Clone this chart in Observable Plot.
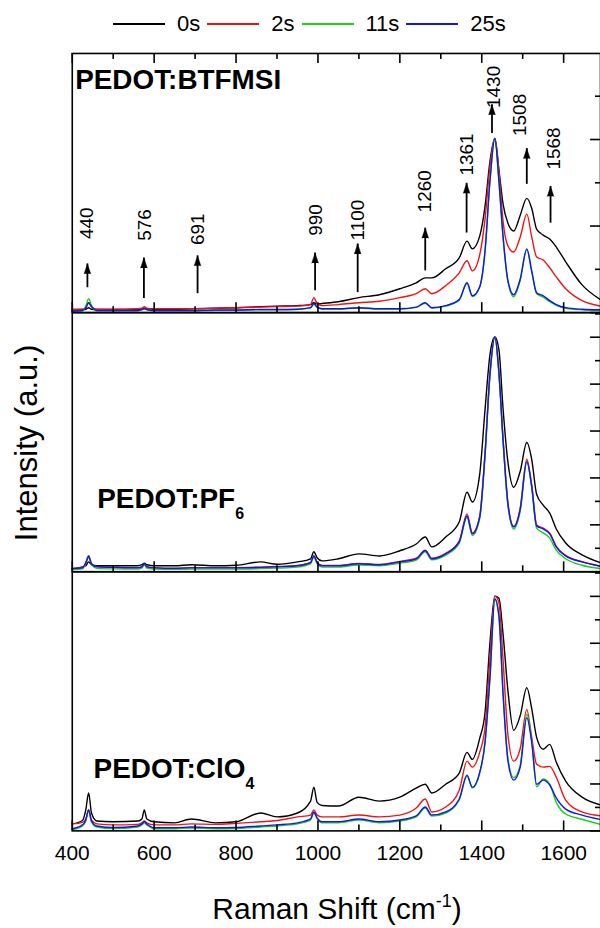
<!DOCTYPE html>
<html>
<head>
<meta charset="utf-8">
<script src="https://cdn.jsdelivr.net/npm/d3@7"></script>
<script src="https://cdn.jsdelivr.net/npm/@observablehq/plot@0.6"></script>
<style>
  html, body { margin: 0; padding: 0; background: #fff; overflow: hidden; }
  #wrap { position: relative; width: 600px; height: 928px; overflow: hidden; font-family: "Liberation Sans", Arial, sans-serif; }
  #legend { position: absolute; left: 0; top: 0; width: 600px; height: 44px; display: flex; align-items: center; padding-left: 113px; box-sizing: border-box; padding-top: 4px; }
  #legend .sw { width: 52px; height: 2px; }
  #legend .lb { font-size: 22px; margin-left: 12px; margin-right: 7px; color: #000; }
  #chart { position: absolute; left: 0; top: 44px; }
  #titles { position: absolute; left: 0; top: 0; pointer-events: none; }
</style>
</head>
<body>
<div id="wrap">
  <div id="legend"></div>
  <div id="chart"></div>
  <svg id="titles" width="600" height="928"></svg>
</div>
<script>
// ---------- data ----------
const seriesNames = ["0s", "2s", "11s", "25s"];
const seriesColors = ["#000000", "#f01414", "#14d214", "#1414f0"];
const panelNames = ["PEDOT:BTFMSI", "PEDOT:PF_6", "PEDOT:ClO_4"];

// Raman shift grid (cm-1)
const shift = [400,425,433,440,447,460,500,560,570,576,582,600,650,691,750,800,860,900,950,982,990,998,1010,1050,1100,1150,1200,1240,1262,1278,1312,1345,1364,1377,1395,1408,1420,1432,1442,1452,1464,1478,1494,1510,1522,1534,1550,1566,1582,1605,1645,1690];

// intensities (a.u., % of panel height)
const btfmsi_0s  = [1.2,1.2,1.3,1.9,1.3,1.2, 1.2,1.3,1.5,1.7,1.5,1.3, 1.3,1.5,1.7,1.9,2.3,2.5, 2.7,3.1,3.8,3.3,3.5,4.2, 5.8,6.9,9.2,11.5,13.4,13.4, 16.9,21.1,27.6,24.6,29.5,41, 58.3,67.2,55,42,34.5,31.5, 37.6,44.1,40.3,32.2,29.9,28.4, 25.3,19.6,10.7,5.0];
const btfmsi_2s  = [1.2,1.3,1.9,3.8,2.3,1.3, 1.3,1.5,1.7,2.3,1.7,1.5, 1.5,1.5,1.7,1.9,2.1,2.3, 2.5,3.1,5.8,3.5,2.7,3.1, 3.8,4.4,5.8,7.3,9.2,7.3, 10.4,15.3,20,16.1,22.3,36.1, 56.4,67.2,54.5,35.3,25.7,23.4, 29.2,38,29.2,21.5,20.3,17.3, 13.8,9.2,4.6,2.5];
const btfmsi_11s = [0.5,0.7,2.5,5.4,2.7,0.7, 0.7,0.7,1.1,1.4,1.1,0.7, 0.7,0.7,0.9,0.9,1.1,1.1, 1.2,1.8,3.3,2,1.4,1.4, 1.8,1.4,1.4,2,3.6,1.8, 2.5,4.8,11.2,6.2,9.8,23.5, 50.5,67.2,50.5,29,11.8,6.1, 12.5,24.3,15.8,7.3,6,4.2, 2.8,1.7,1.1,0.9];
const btfmsi_25s = [0.6,0.8,1.9,3.8,2.3,0.8, 0.8,0.8,1.2,1.5,1.2,0.8, 0.8,0.8,1,1,1.2,1.2, 1.3,1.9,3.5,2.1,1.5,1.5, 1.9,1.5,1.5,2.1,3.8,1.9, 2.7,5,11.5,6.5,10,23.8, 50.7,67.2,50.7,29.5,12.3,6.9, 13,24.6,16.1,7.7,6.5,4.6, 3.1,1.9,1.3,1.1];

const pf6_0s  = [1.2,1.9,2.3,3.8,2.7,2.3, 2.3,2.3,2.7,3.3,2.7,2.3, 2.3,2.7,2.3,2.5,3.8,2.9, 3.8,5,7.7,5.4,4.2,5, 6.9,6.1,8.1,10.7,13.4,9.6, 13.4,19.2,30.7,26.9,37.6,62.5, 83.7,90.6,85.6,63,42.2,32.6, 38.8,49.9,43.4,29.9,25.7,22.6, 16.5,11.1,6.5,3.5];
const pf6_2s  = [1.3,1.6,3.3,5.6,3,2, 1.8,1.6,2,3,2,1.6, 1.4,1.6,1.6,1.6,1.8,2, 2.4,3.6,6.1,3.6,2.4,2.4, 3.2,2.8,4,5.2,8.3,5.2, 7.1,11.8,22.3,15,21.5,45.8, 76.5,90.6,77,51.5,26.5,17.6, 24.6,43.4,33.5,18,16.8,14.9, 9.8,6.3,3.9,2.2];
const pf6_11s = [0.8,1.1,3.3,6.1,2.9,1.3, 1.1,1,1.4,2.7,1.4,1, 0.9,1,1,1,1.2,1.4, 1.8,3,5.8,3,1.8,1.8, 2.6,2.3,3.3,4.5,7.7,4.6, 6.4,11,21,14,20.5,44.8, 75.5,90.6,76,50.5,25.5,16.5, 23.5,42.2,32.5,16.8,15,13, 8.3,5,2.5,1.2];
const pf6_25s = [1.2,1.5,3.5,6.1,3.1,1.9, 1.7,1.5,1.9,3.1,1.9,1.5, 1.3,1.5,1.5,1.5,1.7,1.9, 2.3,3.5,6.1,3.5,2.3,2.3, 3.1,2.7,3.8,5,8.1,5, 6.9,11.5,21.5,14.6,21.1,45.3, 76,90.6,76.7,51,26.1,17.3, 24.2,42.6,33,17.7,16.5,14.6, 9.6,6.1,3.8,2.1];

const clo4_0s  = [2.7,4.0,8.1,14.6,6.9,3.8, 3.5,3.8,4.6,8.1,4.6,3.5, 3.1,4.6,3.1,3.5,6.9,5.4, 6.9,11.5,16.9,11,9.8,9.6, 13,11.5,13,16.5,18,14.6, 18,22.3,30.3,27.6,35.7,45.7, 72.5,90.6,89.8,76,54,38.8, 44.5,55.3,47.2,36.1,31.5,33.4, 26.5,19.2,13,10];
const clo4_2s  = [2.7,3.3,4.6,8.1,4.2,2.7, 2.3,2.5,3.1,3.8,3.1,2.3, 2.3,2.7,2.5,2.9,3.5,4, 5.4,6.1,8.1,6.1,5.4,5.4, 6.1,5.4,6.1,8.8,12.3,7.3, 9.2,15.7,26.9,24.6,30.3,39.9, 66.8,90.6,88,66,37,26.9, 31.8,46.8,36.1,25.7,24.6,24.9, 20.7,11.9,7.3,5.8];
const clo4_11s = [0.4,1.9,3.8,8.1,3.4,1.5, 0.9,1.5,2.3,3.1,2.3,0.8, 0.8,1.1,0.8,0.9,1.5,1.9, 2.7,4.2,7,4.6,3.1,3.1, 4.2,3.1,3.8,5.4,8.8,5.7, 6.9,11.9,21.1,16.5,22.2,33.8, 58.7,89.5,82.5,53.5,28,20.5, 25.5,45,35,17,20,18, 11,6.5,4.5,2.5];
const clo4_25s = [0.8,2.3,4.2,8.1,3.8,1.9, 1.3,1.9,2.7,3.5,2.7,1.2, 1.2,1.5,1.2,1.3,1.9,2.3, 3.1,4.6,7.3,5,3.5,3.5, 4.6,3.5,4.2,5.8,9.2,6.1, 7.3,12.3,21.5,16.9,22.6,34.2, 59.1,89.5,83,53,27,19.6, 24.6,43.7,34.2,18,19.6,17.7, 12.7,8.4,6.1,4.4];

// peak annotations (top panel)
const peakLabels = ["440","576","691","990","1100","1260","1361","1430","1508","1568"];
const arrowX     = [437, 575, 706, 993, 1097, 1262, 1363, 1425, 1510, 1568];
const arrowTail  = [9.6, 5.4, 7.3, 8.4, 7.7, 16.1, 30.7, 69.1, 49.5, 34.5];
const arrowTip   = [18.8, 21.1, 21.9, 23, 26.5, 32.6, 49.9, 80.2, 63.3, 48.7];
const labelX     = [437, 578, 706, 995, 1097, 1262, 1364, 1430, 1493, 1576];
const labelY     = [34.5, 33.8, 32.2, 35.7, 35.7, 46.8, 61, 87.1, 76.3, 63.3];

// panel label positions
const panelLabelX = [407, 461, 452];
const panelLabelY = [89.8, 28, 23.9];

// axis ticks
const xMajor = [400, 600, 800, 1000, 1200, 1400, 1600];
const xMinor = [500, 700, 900, 1100, 1300, 1500];
const rightMajor = [[0, 33.4, 66.8], [0, 18.1, 36.2, 54.3, 72.4, 90.5], [0, 18.1, 36.2, 54.3, 72.4, 90.5]];
const rightMinor = [[16.7, 50.1, 83.5], [9.05, 27.15, 45.25, 63.35, 81.45, 99.5], [9.05, 27.15, 45.25, 63.35, 81.45, 99.5]];

// ---------- layout ----------
const W = 602, H = 884, mT = 8, mB = 94, mL = 72, mR = 0;
const xDomain = [400, 1690], yDomain = [0, 100];
const pxPerX = (W - mL - mR) / (xDomain[1] - xDomain[0]);
const pxPerY = (H - mT - mB) / 3 / (yDomain[1] - yDomain[0]);
const panels = ["p1", "p2", "p3"];

// ---------- build tables ----------
const spectra = [
  [btfmsi_0s, btfmsi_2s, btfmsi_11s, btfmsi_25s],
  [pf6_0s, pf6_2s, pf6_11s, pf6_25s],
  [clo4_0s, clo4_2s, clo4_11s, clo4_25s]
];
const rows = [];
panels.forEach((p, pi) => {
  seriesNames.forEach((s, si) => {
    const arr = spectra[pi][si];
    shift.forEach((x, i) => rows.push({panel: p, series: s, key: p + s, x, y: arr[i]}));
  });
});

const annos = peakLabels.map((t, i) => ({panel: "p1", label: t, ax: arrowX[i], tail: arrowTail[i], tip: arrowTip[i], lx: labelX[i], ly: labelY[i]}));
const plabels = panelNames.map((t, i) => ({panel: panels[i], text: t, x: panelLabelX[i], y: panelLabelY[i]}));

const bottomTicks = [];
panels.forEach(p => {
  xMajor.forEach(x => bottomTicks.push({panel: p, x, len: 10}));
  xMinor.forEach(x => bottomTicks.push({panel: p, x, len: 6}));
});
const topTicks = [];
xMajor.forEach(x => topTicks.push({panel: "p1", x, len: 10}));
xMinor.forEach(x => topTicks.push({panel: "p1", x, len: 6}));
const rightTicks = [];
panels.forEach((p, pi) => {
  rightMajor[pi].forEach(v => rightTicks.push({panel: p, v, len: 10}));
  rightMinor[pi].forEach(v => rightTicks.push({panel: p, v, len: 5}));
});

// ---------- plot ----------
const chart = Plot.plot({
  width: W, height: H,
  marginTop: mT, marginBottom: mB, marginLeft: mL, marginRight: mR,
  style: {fontFamily: '"Liberation Sans", Arial, sans-serif', background: "white", color: "#000", overflow: "visible"},
  x: {domain: xDomain},
  y: {domain: yDomain, axis: null},
  fy: {domain: panels, axis: null, padding: 0, label: null},
  color: {domain: seriesNames, range: seriesColors},
  marks: [
    Plot.line(rows, {x: "x", y: "y", z: "key", stroke: "series", fy: "panel", curve: "monotone-x", strokeWidth: 1.4}),
    Plot.ruleX(bottomTicks, {x: "x", y1: 0, y2: d => d.len / pxPerY, fy: "panel", stroke: "#000", strokeWidth: 1.6}),
    Plot.ruleX(topTicks, {x: "x", y1: d => 100 - d.len / pxPerY, y2: 100, fy: "panel", stroke: "#000", strokeWidth: 1.6}),
    Plot.ruleY(rightTicks, {y: "v", x1: d => xDomain[1] - d.len / pxPerX, x2: xDomain[1], fy: "panel", stroke: "#000", strokeWidth: 1.6}),
    Plot.ruleX(annos, {x: "ax", y1: "tail", y2: "tip", fy: "panel", stroke: "#000", strokeWidth: 1.8}),
    Plot.vector(annos, {x: "ax", y: "tip", length: 10, r: 3.3, shape: "spike", anchor: "end", fill: "#000", stroke: "#000", strokeWidth: 0.5, fy: "panel"}),
    Plot.text(annos, {x: "lx", y: "ly", text: "label", rotate: -90, fy: "panel", fontSize: 19, textAnchor: "middle", lineAnchor: "middle", fill: "#000"}),
    Plot.text(plabels, {x: "x", y: "y", text: "text", fy: "panel", fontSize: 28, fontWeight: "bold", textAnchor: "start", lineAnchor: "middle", fill: "#000"}),
    Plot.frame({stroke: "#000", strokeWidth: 1.6}),
    Plot.axisX(xMajor, {anchor: "bottom", tickSize: 0, tickPadding: 14, fontSize: 21, fill: "#000", tickFormat: d => String(d)})
  ]
});
document.getElementById("chart").appendChild(chart);

// subscripts in panel labels
d3.select(chart).selectAll("text").each(function() {
  const t = this.textContent;
  if (t.includes("_")) {
    const [main, sub] = t.split("_");
    const el = d3.select(this);
    el.text(main);
    el.append("tspan").attr("dy", 11).attr("font-size", 16).text(sub);
  }
});

// ---------- legend ----------
const legend = d3.select("#legend");
seriesNames.forEach((s, i) => {
  legend.append("div").attr("class", "sw").style("background", seriesColors[i]);
  legend.append("div").attr("class", "lb").text(s);
});

// ---------- axis titles ----------
const titles = d3.select("#titles");
const xt = titles.append("text")
  .attr("x", 337).attr("y", 919)
  .attr("text-anchor", "middle")
  .attr("font-family", '"Liberation Sans", Arial, sans-serif')
  .attr("font-size", 30).attr("fill", "#000");
xt.append("tspan").text("Raman Shift (cm");
xt.append("tspan").attr("font-size", 18).attr("dy", -12).text("-1");
xt.append("tspan").attr("dy", 12).text(")");

titles.append("text")
  .attr("transform", "translate(37,443) rotate(-90)")
  .attr("text-anchor", "middle")
  .attr("font-family", '"Liberation Sans", Arial, sans-serif')
  .attr("font-size", 31).attr("fill", "#000")
  .text("Intensity (a.u.)");
</script>
</body>
</html>
